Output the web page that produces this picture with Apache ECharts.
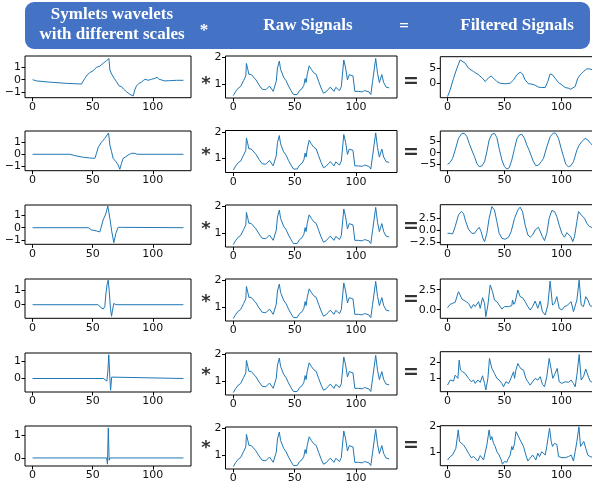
<!DOCTYPE html>
<html><head><meta charset="utf-8">
<script src="https://cdn.jsdelivr.net/npm/echarts@6/dist/echarts.min.js"></script>
<style>html,body{margin:0;padding:0;background:#fff}#c{width:592px;height:483px}</style>
</head><body><div id="c"></div>
<script>
// ---------------- DATA ----------------
const headerLeft = ['Symlets wavelets', 'with different scales'];
const headerMid = 'Raw Signals';
const headerRight = 'Filtered Signals';
const xTickValues = [0, 50, 100];

const wavelet1 = [[0,0],[3.3,-0.1],[14.4,-0.2],[28.3,-0.3],[40.7,-0.35],[42,-0.36],[43.5,0.11],[45.4,0.38],[47.6,0.57],[50.4,0.73],[53.2,1.0],[56,1.1],[58.7,1.33],[61.5,1.54],[63.5,1.72],[64.3,0.79],[65.7,0.46],[67.9,0.11],[69.8,-0.16],[72,-0.51],[74,-0.56],[75.9,-0.78],[78.1,-0.97],[80.9,-1.18],[83.7,-1.32],[85,-0.84],[86.4,-0.51],[88.6,-0.29],[90.6,-0.21],[92.5,-0.02],[94.2,0.03],[96.1,-0.05],[98.9,0.03],[101.7,0.11],[103.6,0.19],[105.3,0.03],[107.2,-0.02],[110,-0.1],[114.1,-0.08],[119.7,-0.05],[125.5,-0.05]];
const wavelet2 = [[0,0],[31,0],[35.2,-0.11],[42.1,-0.25],[47.6,-0.31],[51.8,-0.34],[53.2,0.08],[54.6,0.58],[57.3,1.0],[60.1,1.33],[62,1.61],[63.2,1.78],[64.3,0.77],[65.7,0.22],[67,-0.34],[69.3,-0.61],[71.2,-0.89],[72.6,-1.25],[74,-0.75],[75.3,-0.34],[77.6,-0.2],[79.5,-0.06],[82.3,0.08],[83.7,0.22],[85,0.08],[87,0],[125.5,0]];
const wavelet3 = [[0,0],[46.3,0],[49,-0.18],[53.2,-0.26],[56,-0.34],[57.3,-0.18],[58.7,0.62],[60.9,1.1],[62.6,1.74],[64.3,0.75],[65.9,-0.32],[67.6,-1.2],[69.3,-0.45],[71.2,0.03],[72.6,0.14],[74,0.03],[75.3,0],[125.5,0]];
const wavelet4 = [[0,0],[54.6,0],[56.5,-0.18],[58.7,-0.3],[60.1,-0.14],[60.9,0.67],[62,1.41],[62.9,1.7],[63.7,1.02],[64.8,-0.25],[65.7,-0.8],[66.5,-0.37],[67.6,0.09],[68.4,0.14],[69.3,0],[125.5,0]];
const wavelet5 = [[0,0],[59,0],[60.5,-0.1],[61.8,-0.15],[62.6,0.4],[63.4,1.36],[64.2,0.2],[64.9,-0.67],[65.8,0.08],[66.6,0],[125.5,0]];
const wavelet6 = [[0,0],[61.6,0],[62.3,-0.27],[63,1.31],[63.7,-0.1],[64.4,0],[125.5,0]];

const rawSignal = [[0,0.56],[2,0.72],[4,0.84],[6,0.9],[7.5,0.95],[8.3,1.12],[9.5,1.17],[10.2,1.3],[10.7,1.77],[11.8,1.55],[12.7,1.36],[14.5,1.36],[16,1.3],[18.5,1.15],[21,0.96],[23.5,0.8],[25,0.74],[26.5,0.78],[28,0.72],[29.5,0.92],[31,0.93],[32.5,0.72],[33.8,0.66],[35,1.1],[36,1.6],[37.5,1.86],[38.5,1.55],[39.5,1.5],[41,1.25],[43,1.12],[45,0.92],[47,0.75],[49,0.6],[50.5,0.66],[52,0.6],[54,0.75],[56,0.82],[57.5,0.95],[58.5,1.2],[59.3,1.05],[60.2,1.35],[61.8,1.68],[63.5,1.55],[65.5,1.42],[67.5,1.36],[69.5,1.1],[71.5,0.85],[73.5,0.65],[75.5,0.7],[77.5,0.8],[79,0.88],[80.5,0.82],[82,0.72],[83.5,0.87],[85,0.92],[86.5,0.75],[88,0.9],[90,1.9],[91.5,1.6],[93,1.15],[94.5,1.35],[96,1.3],[97.5,1.3],[99,0.72],[102,0.72],[105,0.7],[107,0.75],[108.5,0.82],[110.5,0.7],[112,0.6],[113.5,1.1],[116,1.96],[117.5,1.4],[119,1.05],[121,1.35],[122.5,1.05],[124.5,0.88],[127,0.85]];

const filtered1 = [[0,-4.5],[2.3,-2.2],[5.3,1.67],[8.2,5],[11.1,7.8],[12.6,8.1],[15.5,6.7],[18.4,5],[22.8,3.9],[27.2,2.8],[30.7,1.67],[33,0.56],[34.5,0.9],[36.5,2],[38.3,2.4],[40.4,1.67],[43.3,0.56],[46.2,0],[50.6,-0.2],[55,0],[57.9,1.1],[60.8,2.8],[63.7,3.7],[65.8,3.1],[68.1,1.1],[71,-0.2],[74,-0.3],[76.9,-0.67],[79.8,-1.33],[82.7,-1.44],[85.7,-1.44],[88,0.56],[90,3.1],[92.1,2.8],[94.4,1.67],[97.4,0.2],[100.3,-0.56],[103.2,-1.44],[106.1,-1.67],[108.2,-2],[109.6,-2.44],[112,-1.1],[114.3,1.67],[116.4,2.8],[119.3,3.9],[122.2,4.8],[124.6,4.8],[127,4.5]];
const filtered2 = [[0,-4.9],[2.3,-4.1],[4.4,-2.4],[6.7,1.1],[9.6,6.1],[12.6,8.2],[14.9,8.2],[17,6.8],[19,4],[21.3,1.1],[23.7,-1.7],[25.7,-4.5],[27.8,-5.9],[30.1,-5.6],[32.5,-3.8],[34.5,0.4],[36.5,5.4],[38.9,7.8],[41.2,8.2],[43.3,6.4],[45.3,1.8],[47.7,-3.1],[50,-5.9],[52,-6.9],[54.1,-6.4],[56.4,-3.1],[58.8,1.8],[60.8,5.8],[62.9,7.5],[65.2,7.8],[67.5,6.1],[69.6,3.2],[71.6,1.1],[73.4,-1.3],[75.4,-3.8],[77.5,-5.5],[79.8,-5.2],[82.2,-3.8],[84.2,-2.4],[87.1,2.5],[90.1,6.8],[93,8.4],[95,8.2],[97.4,6.1],[99.7,1.8],[101.8,-1.7],[103.8,-4.9],[106.1,-5.9],[108.2,-5.5],[110.5,-3.8],[113.5,1.1],[115.5,3.2],[117.8,4.7],[120.8,6.1],[123.1,5.4],[125.4,4],[127,3.3]];
const filtered3 = [[0,-0.69],[2.3,-0.69],[4.4,-0.82],[6.7,0.69],[9.6,3.1],[12,3.8],[14,3.4],[16,1.7],[18.4,0.14],[21.3,-0.69],[23.7,-0.69],[25.7,0],[27.8,0.55],[29.5,-0.34],[31,-1.72],[32.5,-2.4],[34.5,-0.69],[36.5,2.4],[38.9,4.8],[41.2,4.1],[43.3,1.7],[45.3,-0.69],[47.7,-1.72],[50.6,-1.9],[53.5,-1.5],[55.8,-0.34],[58.8,2.4],[61.7,4.1],[63.7,4.7],[65.8,3.8],[68.1,1],[70.5,-1.03],[72.5,-1.5],[74.6,-1.03],[76.9,0],[79.8,0.55],[81.3,0.34],[83.3,-1.4],[85.1,-2.2],[87.1,-0.69],[89.2,2.4],[91.5,4],[93.9,3.8],[95.9,2.75],[98,1],[100.3,-0.69],[102.6,-1.5],[104.7,-0.55],[106.1,-0.14],[108.2,-1.4],[109.9,-2.4],[111.4,-1.4],[113.5,1.7],[114.9,3.8],[117.3,3.1],[120.2,2.4],[122.2,1.4],[124.6,0.69],[127,0.5]];
const filtered4 = [[0,0.25],[2.3,0.67],[4.4,0.79],[6.7,0.92],[8.2,0.79],[9.6,2.25],[11.1,1.83],[12.6,1.33],[15.5,1.08],[18.4,0.79],[20.8,0.17],[22.8,0.67],[24.3,0.38],[27.2,1],[28.7,0.17],[30.7,1.5],[32.5,0.79],[33.6,-0.88],[35.4,0.58],[37.4,3.08],[39.5,2.25],[41.2,1.21],[43.3,1],[45.3,0.58],[47.7,0.08],[50,0.38],[53.5,0.38],[56.4,0.5],[57,1.21],[58.2,0.67],[59.4,1],[61.7,2.46],[63.7,1.63],[65.8,1.5],[68.1,1],[70.5,0.38],[72.5,-0.04],[74.6,0.38],[76.9,1.08],[79.2,0.17],[81.3,1.08],[83.3,-0.25],[85.7,-0.67],[88,0.58],[90,3.58],[92.1,0.58],[93.9,0.79],[95.9,1.63],[98,0.17],[100.3,-0.04],[102.6,0.38],[104.7,0.5],[106.1,0.58],[108.5,1],[110.5,-0.25],[112,-0.46],[113.5,1.21],[115.5,3.7],[117.3,0.58],[119.3,0.38],[121.3,1.63],[123.1,1.21],[125.1,0.5],[127,0.4]];
const filtered5 = [[0,0.52],[2.3,0.85],[3.8,0.96],[5.3,0.78],[6.7,1.17],[8.2,1.28],[9.1,0.96],[10.2,2.15],[11.4,1.5],[13.2,1.39],[15.5,1.28],[18.4,0.96],[20.8,0.74],[22.8,0.85],[24.3,0.63],[26.6,0.85],[28.7,0.7],[30.7,1.13],[32.5,0.63],[33.6,0.2],[35.4,0.96],[36.8,2.26],[38.9,1.61],[41.2,1.28],[43.3,0.96],[45.3,0.85],[47.7,0.63],[49.1,0.41],[51.2,0.74],[53.5,0.63],[55,0.85],[56.4,0.78],[57.9,1.39],[58.8,0.96],[60,1.5],[61.7,1.93],[63.2,1.72],[64.6,1.57],[66.7,1.5],[68.7,0.96],[70.5,0.74],[72.5,0.52],[74.6,0.74],[76.9,0.96],[79.2,0.85],[81.3,1.07],[83.3,0.57],[85.1,0.41],[87.1,1.07],[89.2,2.26],[90.9,2.37],[92.4,0.96],[94.4,1.28],[96.2,1.61],[98,0.74],[100.3,0.63],[103.2,0.74],[106.1,0.7],[108.5,0.85],[110.5,0.63],[112,0.41],[113.5,1.17],[115.5,2.52],[117.3,0.85],[119.3,1.07],[121.3,1.57],[123.1,1.17],[125.1,0.78],[127,0.7]];
const filtered6 = [[0,0.69],[2.3,0.82],[4.4,0.88],[6.1,0.95],[7.3,1.14],[8.5,1.21],[9.4,1.85],[10.5,1.4],[12,1.33],[14,1.27],[16,1.14],[18.4,0.95],[20.8,0.78],[22.8,0.82],[24.3,0.76],[26.6,0.65],[28.7,0.86],[30.1,0.91],[31.6,0.69],[33,0.65],[34.5,1.27],[36.5,1.85],[37.7,1.46],[38.9,1.59],[40.4,1.33],[41.8,1.21],[43.3,1.01],[45.3,0.88],[47.1,0.69],[48.2,0.53],[50,0.63],[52,0.6],[53.5,0.76],[55,0.88],[56.4,1.21],[57.3,1.08],[58.8,1.33],[60,1.78],[61.7,1.65],[63.7,1.46],[65.2,1.4],[66.7,1.21],[68.7,0.88],[70.5,0.65],[72.5,0.76],[74.6,0.88],[76.3,0.78],[77.5,0.69],[79.2,0.95],[80.7,0.82],[82.7,1.01],[84.2,0.95],[85.7,0.88],[87.1,1.21],[89.5,1.91],[91,1.4],[92.1,1.21],[93.9,1.33],[95.9,1.29],[97.4,0.82],[100.3,0.78],[103.2,0.78],[106.1,0.82],[108.5,0.88],[110.5,0.65],[112,1.01],[113.5,1.4],[115.3,1.97],[116.7,1.21],[117.8,1.14],[119.6,1.4],[121.3,1.14],[123.1,0.88],[125.1,0.82],[127,0.8]];

const waveletYTicks = [[-1,0,1],[-1,0,1],[-1,0,1],[0,1],[0,1],[0,1]];
const rawYTicks = [1,2];
const filteredYTicks = [[0,5],[-5,0,5],[-2.5,0,2.5],[0,2.5],[1,2],[1,2]];

const wavelets = [wavelet1, wavelet2, wavelet3, wavelet4, wavelet5, wavelet6];
const filtereds = [filtered1, filtered2, filtered3, filtered4, filtered5, filtered6];

// ---------------- LAYOUT ----------------
const colX = [
  {left: 25, width: 166, min: -6.3, max: 131.8},
  {left: 225.5, width: 171.5, min: -6.35, max: 133.35},
  {left: 440.3, width: 159.2, min: -6.35, max: 133.35}
];
const col1Rows = [
  {top: 56, h: 41.7, min: -1.46, max: 1.92},
  {top: 131, h: 39.7, min: -1.37, max: 1.94},
  {top: 205, h: 39.3, min: -1.33, max: 1.82},
  {top: 279, h: 39.3, min: -0.94, max: 1.78},
  {top: 353, h: 39, min: -0.77, max: 1.457},
  {top: 426, h: 40, min: -0.35, max: 1.39}
];
const col2Rows = [56, 130.5, 205, 279, 353, 427].map(t => ({top: t, h: 42, min: 0.47, max: 2.05}));
const col3Rows = [
  {top: 56.7, h: 41, min: -4.85, max: 8.87, dec: 0},
  {top: 131, h: 39.7, min: -7.6, max: 9.2, dec: 0},
  {top: 204.7, h: 40, min: -3.03, max: 5.2, dec: 1},
  {top: 279, h: 39.3, min: -1.08, max: 3.84, dec: 1},
  {top: 351.7, h: 40, min: 0.09, max: 2.7, dec: 0},
  {top: 425.7, h: 40, min: 0.47, max: 2.01, dec: 0}
];
const rowMid = [82, 153, 227, 300, 373, 446];

const TXT = '#111';
const fmt = (v, dec) => (v < 0 ? '\u2212' : '') + Math.abs(v).toFixed(dec);

const grids = [], xAxes = [], yAxes = [], series = [];
function addPlot(col, row, data, yTicks, dec) {
  const i = grids.length;
  grids.push({left: colX[col].left, top: row.top, width: colX[col].width, height: row.h,
    show: true, borderColor: '#000', borderWidth: 1, backgroundColor: 'transparent',
    containLabel: false, outerBoundsMode: 'none'});
  xAxes.push({type: 'value', gridIndex: i, position: 'bottom', min: colX[col].min, max: colX[col].max,
    axisLine: {show: false, onZero: false}, splitLine: {show: false},
    axisTick: {show: true, length: 3.5, customValues: xTickValues, lineStyle: {color: '#000', width: 1}},
    axisLabel: {customValues: xTickValues, margin: 4, fontSize: 11, fontFamily: 'DejaVu Sans', color: TXT,
      formatter: v => fmt(v, 0)}});
  yAxes.push({type: 'value', gridIndex: i, position: 'left', min: row.min, max: row.max,
    axisLine: {show: false, onZero: false}, splitLine: {show: false},
    axisTick: {show: true, length: 3.5, customValues: yTicks, lineStyle: {color: '#000', width: 1}},
    axisLabel: {customValues: yTicks, margin: 4, fontSize: 11, fontFamily: 'DejaVu Sans', color: TXT,
      formatter: v => fmt(v, dec)}});
  series.push({type: 'line', xAxisIndex: i, yAxisIndex: i, data: data, showSymbol: false,
    lineStyle: {color: '#1f77b4', width: 1}, itemStyle: {color: '#1f77b4'}, silent: true, clip: true});
}
for (let r = 0; r < 6; r++) {
  addPlot(0, col1Rows[r], wavelets[r], waveletYTicks[r], 0);
  addPlot(1, col2Rows[r], rawSignal, rawYTicks, 0);
  addPlot(2, col3Rows[r], filtereds[r], filteredYTicks[r], col3Rows[r].dec);
}

const HF = 'bold 17px "Liberation Serif"';
const graphics = [
  {type: 'rect', shape: {x: 25, y: 2, width: 565, height: 47, r: 9}, style: {fill: '#4472C4'}, z: 0},
  {type: 'text', x: 112, y: 15, style: {text: headerLeft[0], fill: '#fff', font: HF, textAlign: 'center', textVerticalAlign: 'middle'}},
  {type: 'text', x: 112, y: 35, style: {text: headerLeft[1], fill: '#fff', font: HF, textAlign: 'center', textVerticalAlign: 'middle'}},
  {type: 'text', x: 204, y: 31, style: {text: '*', fill: '#fff', font: HF, textAlign: 'center', textVerticalAlign: 'middle'}},
  {type: 'text', x: 308, y: 26, style: {text: headerMid, fill: '#fff', font: HF, textAlign: 'center', textVerticalAlign: 'middle'}},
  {type: 'text', x: 404, y: 27, style: {text: '=', fill: '#fff', font: HF, textAlign: 'center', textVerticalAlign: 'middle'}},
  {type: 'text', x: 517, y: 26, style: {text: headerRight, fill: '#fff', font: HF, textAlign: 'center', textVerticalAlign: 'middle'}}
];
rowMid.forEach(y => {
  graphics.push({type: 'text', x: 206, y: y + 2, style: {text: '*', fill: '#333', font: 'bold 18px "DejaVu Sans"', textAlign: 'center', textVerticalAlign: 'middle'}});
  graphics.push({type: 'text', x: 411, y: y, style: {text: '=', fill: '#333', font: 'bold 19px "DejaVu Sans"', textAlign: 'center', textVerticalAlign: 'middle'}});
});

const chart = echarts.init(document.getElementById('c'), null, {renderer: 'canvas'});
chart.setOption({animation: false, backgroundColor: '#fff', grid: grids, xAxis: xAxes, yAxis: yAxes, series: series, graphic: graphics});
</script></body></html>
